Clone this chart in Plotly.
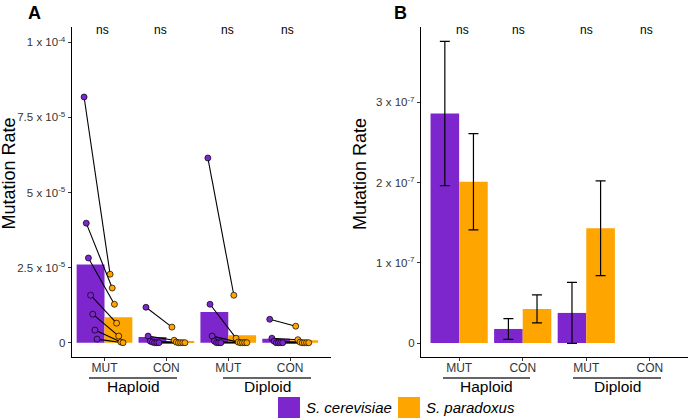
import numpy as np
import plotly.graph_objects as go

W, H = 689, 420

groups = ["Haploid", "Diploid"]
conditions = ["MUT", "CON", "MUT", "CON"]
species = ["S. cerevisiae", "S. paradoxus"]
colors = {"S. cerevisiae": "#7D26CD", "S. paradoxus": "#FFA500"}

# ---- Panel A: paired mutation rates (units of 1e-5) ----
A_UNIT = 1e-5
cer_pairs = [
    [8.18, 3.98, 2.82, 1.58, 0.95, 0.42, 0.12],   # Haploid MUT
    [1.18, 0.22, 0.05, 0.02, 0.0, 0.0, 0.0],      # Haploid CON
    [6.15, 1.28, 0.22, 0.05, 0.0, 0.0, 0.0],      # Diploid MUT
    [0.78, 0.15, 0.05, 0.0, 0.0, 0.0, 0.0],       # Diploid CON
]
par_pairs = [
    [2.28, 1.82, 1.28, 0.65, 0.22, 0.02, 0.0],
    [0.52, 0.08, 0.02, 0.0, 0.0, 0.0, 0.0],
    [1.58, 0.15, 0.02, 0.0, 0.0, 0.0, 0.0],
    [0.55, 0.10, 0.02, 0.0, 0.0, 0.0, 0.0],
]
cer_mean_A = [2.60, 0.19, 1.02, 0.13]
par_mean_A = [0.85, 0.06, 0.25, 0.08]
A_ticks = [0, 2.5e-5, 5e-5, 7.5e-5, 1e-4]
A_ticktext = ["0", "2.5 x 10<sup>-5</sup>", "5 x 10<sup>-5</sup>",
              "7.5 x 10<sup>-5</sup>", "1 x 10<sup>-4</sup>"]

# ---- Panel B: mean rates with error (units of 1e-7) ----
B_UNIT = 1e-7
cer_mean_B = [2.86, 0.175, 0.375, None]
par_mean_B = [2.01, 0.425, 1.43, None]
cer_err_B = [0.90, 0.13, 0.38, None]
par_err_B = [0.60, 0.175, 0.59, None]
B_ticks = [0, 1e-7, 2e-7, 3e-7]
B_ticktext = ["0", "1 x 10<sup>-7</sup>", "2 x 10<sup>-7</sup>", "3 x 10<sup>-7</sup>"]

sig_labels = ["ns", "ns", "ns", "ns"]

xpos = np.arange(1, 5)
FONT = "Liberation Sans, Arial, sans-serif"
TICKC = "#333333"

fig = go.Figure()

def scale(v, u):
    return [None if x is None else x * u for x in v]

# Panel A bars
fig.add_trace(go.Bar(x=xpos, y=scale(cer_mean_A, A_UNIT), width=0.45, offset=-0.45,
                     marker=dict(color=colors[species[0]], line=dict(width=0)),
                     xaxis="x", yaxis="y", showlegend=False))
fig.add_trace(go.Bar(x=xpos, y=scale(par_mean_A, A_UNIT), width=0.45, offset=0,
                     marker=dict(color=colors[species[1]], line=dict(width=0)),
                     xaxis="x", yaxis="y", showlegend=False))

# Panel A paired lines and points
off_c = np.linspace(-0.33, -0.12, 7)
off_p = np.linspace(0.09, 0.30, 7)
lx, ly, cx, cy, px, py = [], [], [], [], [], []
for g, (cv, pv) in enumerate(zip(cer_pairs, par_pairs)):
    for i, (a, b) in enumerate(zip(cv, pv)):
        xa, xb = xpos[g] + off_c[i], xpos[g] + off_p[i]
        lx += [xa, xb, None]
        ly += [a * A_UNIT, b * A_UNIT, None]
        cx.append(xa); cy.append(a * A_UNIT)
        px.append(xb); py.append(b * A_UNIT)
fig.add_trace(go.Scatter(x=lx, y=ly, mode="lines", line=dict(color="black", width=1.1),
                         xaxis="x", yaxis="y", showlegend=False, hoverinfo="skip"))
fig.add_trace(go.Scatter(x=cx, y=cy, mode="markers",
                         marker=dict(size=6, color=colors[species[0]], line=dict(color="black", width=0.7)),
                         xaxis="x", yaxis="y", showlegend=False))
fig.add_trace(go.Scatter(x=px, y=py, mode="markers",
                         marker=dict(size=6, color=colors[species[1]], line=dict(color="black", width=0.7)),
                         xaxis="x", yaxis="y", showlegend=False))

# Panel B bars with error bars
fig.add_trace(go.Bar(x=xpos, y=scale(cer_mean_B, B_UNIT), width=0.45, offset=-0.45,
                     marker=dict(color=colors[species[0]], line=dict(width=0)),
                     error_y=dict(type="data", array=scale(cer_err_B, B_UNIT), color="black",
                                  thickness=1.2, width=5),
                     xaxis="x2", yaxis="y2", showlegend=False))
fig.add_trace(go.Bar(x=xpos, y=scale(par_mean_B, B_UNIT), width=0.45, offset=0,
                     marker=dict(color=colors[species[1]], line=dict(width=0)),
                     error_y=dict(type="data", array=scale(par_err_B, B_UNIT), color="black",
                                  thickness=1.2, width=5),
                     xaxis="x2", yaxis="y2", showlegend=False))

ydom = [1 - 357 / H, 1 - 27 / H]
axis_common = dict(showline=True, linecolor="black", linewidth=1.2, ticks="outside",
                   ticklen=3, tickcolor=TICKC, showgrid=False, zeroline=False)
xfont = dict(family=FONT, size=12, color=TICKC)
yfont = dict(family=FONT, size=11.5, color=TICKC)
fig.update_layout(
    width=W, height=H, margin=dict(l=0, r=0, t=0, b=0),
    plot_bgcolor="white", paper_bgcolor="white", barmode="overlay",
    xaxis=dict(domain=[71.7 / W, 331 / W], range=[0.47, 4.66], anchor="y",
               tickvals=list(xpos), ticktext=conditions, tickfont=xfont,
               ticklabelstandoff=-4, **axis_common),
    yaxis=dict(domain=ydom, range=[-4.76e-6, 1.051e-4], anchor="x",
               tickvals=A_ticks, ticktext=A_ticktext, tickfont=yfont, **axis_common),
    xaxis2=dict(domain=[421 / W, 688 / W], range=[0.4, 4.6], anchor="y2",
                tickvals=list(xpos), ticktext=conditions, tickfont=xfont,
                ticklabelstandoff=-4, **axis_common),
    yaxis2=dict(domain=ydom, range=[-0.1745e-7, 3.939e-7], anchor="x2",
                tickvals=B_ticks, ticktext=B_ticktext, tickfont=yfont, **axis_common),
    font=dict(family=FONT),
)

ann = []
# panel letters
ann.append(dict(text="<b>A</b>", x=34.5 / W, y=1 - 13.5 / H, xref="paper", yref="paper",
                showarrow=False, font=dict(size=18, color="black"), xanchor="center", yanchor="middle"))
ann.append(dict(text="<b>B</b>", x=400 / W, y=1 - 13.5 / H, xref="paper", yref="paper",
                showarrow=False, font=dict(size=18, color="black"), xanchor="center", yanchor="middle"))
# y titles
for xp in (8.5, 360):
    ann.append(dict(text="Mutation Rate", x=xp / W, y=1 - 174 / H, xref="paper", yref="paper",
                    showarrow=False, textangle=-90, font=dict(size=18, color="black"),
                    xanchor="center", yanchor="middle"))
# ns labels
nsA = [0.96, 1.90, 2.98, 3.96]
nsB = [1.06, 1.94, 3.0, 3.94]
for lab, xa, xb in zip(sig_labels, nsA, nsB):
    ann.append(dict(text=lab, x=xa, y=1 - 30 / H, xref="x", yref="paper", showarrow=False,
                    font=dict(size=12, color="black"), xanchor="center", yanchor="middle"))
    ann.append(dict(text=lab, x=xb, y=1 - 30 / H, xref="x2", yref="paper", showarrow=False,
                    font=dict(size=12, color="black"), xanchor="center", yanchor="middle"))

shapes = []
# group labels with underline
group_spans = [((89, 177), (223, 311)), ((443, 530), (573, 661))]
for spans in group_spans:
    for name, (x0, x1) in zip(groups, spans):
        shapes.append(dict(type="line", xref="paper", yref="paper", x0=x0 / W, x1=x1 / W,
                           y0=1 - 378 / H, y1=1 - 378 / H, line=dict(color="#333333", width=1.3)))
        ann.append(dict(text=name, x=(x0 + x1) / 2 / W, y=1 - 386 / H, xref="paper", yref="paper",
                        showarrow=False, font=dict(size=15.5, color="black"),
                        xanchor="center", yanchor="middle"))

# manual legend
leg = [(278, species[0]), (398, species[1])]
for x0, sp in leg:
    shapes.append(dict(type="rect", xref="paper", yref="paper", x0=x0 / W, x1=(x0 + 22) / W,
                       y0=1 - 418 / H, y1=1 - 397 / H, fillcolor=colors[sp], line=dict(width=0)))
    ann.append(dict(text="<i>" + sp + "</i>", x=(x0 + 26) / W, y=1 - 407.5 / H, xref="paper",
                    yref="paper", showarrow=False, font=dict(size=15, color="black"),
                    xanchor="left", yanchor="middle"))

fig.update_layout(annotations=ann, shapes=shapes)
fig.write_html("out.html", config={"displayModeBar": False},
               post_script="document.body.style.margin='0px';document.body.style.overflow='hidden';")
